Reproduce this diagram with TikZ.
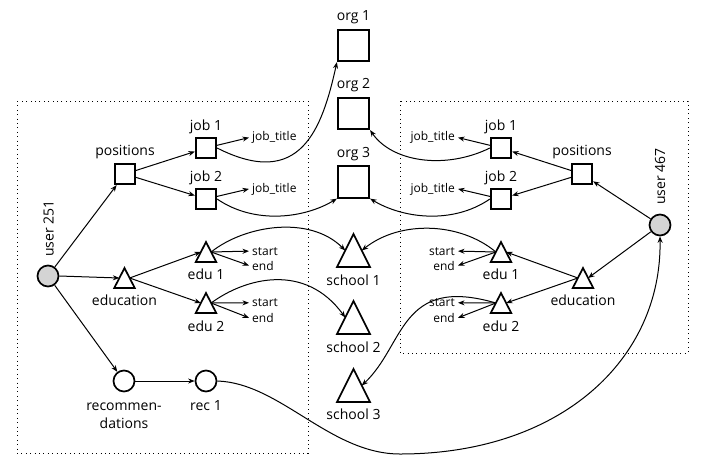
\documentclass[tikz,border=0pt]{standalone}
\usepackage{fontspec}
\setmainfont{Open Sans}
\usetikzlibrary{arrows.meta,calc}
\newcommand\drawtri[1]{%
  \draw[line width=1.7pt] (#1.south west) -- (#1.north) -- (#1.south east) -- cycle;
  \coordinate (#1-l) at ($(#1.south west)!0.5!(#1.north)$);
  \coordinate (#1-r) at ($(#1.south east)!0.5!(#1.north)$);}
\begin{document}
\begin{tikzpicture}[x=1pt,y=-1pt,
 sq/.style={draw, line width=1.7pt, minimum size=20.5pt, inner sep=0pt},
 bigsq/.style={sq, minimum size=31.5pt},
 tri/.style={minimum width=20.5pt, minimum height=20pt, inner sep=0pt, outer sep=0pt, anchor=south},
 bigtri/.style={tri, minimum width=33pt, minimum height=33pt},
 usr/.style={draw, circle, line width=1.7pt, fill=black!17, minimum size=21pt, inner sep=0pt},
 recn/.style={draw, circle, line width=1.7pt, minimum size=21pt, inner sep=0pt},
 lbl/.style={font=\fontsize{14}{16}\selectfont, inner sep=0pt, anchor=base},
 sml/.style={font=\fontsize{12}{13}\selectfont, inner xsep=3pt, inner ysep=1pt},
 arr/.style={-{Stealth[length=6.5pt,width=5pt]}, line width=1pt},
 dotbox/.style={dash pattern=on 0.8pt off 3.6pt, line width=0.8pt}
]
\useasboundingbox (0,0) rectangle (708,466);
% boxes
\draw[dotbox] (17,101) rectangle (308,453);
\draw[dotbox] (400,101) rectangle (688,353);

% ---------- left ----------
\node[usr] (u1) at (48,276) {};
\node[lbl, rotate=90, anchor=base west] (u1l) at (53.5,257) {user 251};
\node[sq] (pos1) at (125,174) {};
\node[lbl] (pos1l) at (125,155.7) {positions};
\node[sq] (job1) at (206,148) {};
\node[lbl] (job1l) at (206,130) {job 1};
\node[sq] (job2) at (206,199) {};
\node[lbl] (job2l) at (206,181.7) {job 2};
\node[sml, anchor=base west] (jt1) at (249,140.7) {job\_title};
\node[sml, anchor=base west] (jt2) at (249,192) {job\_title};
\node[tri] (edu) at (124.5,288) {}; \drawtri{edu}
\node[lbl] (edul) at (124.5,305) {education};
\node[tri] (e1) at (206,262) {}; \drawtri{e1}
\node[lbl] (e1l) at (206,279) {edu 1};
\node[tri] (e2) at (206,313) {}; \drawtri{e2}
\node[lbl] (e2l) at (206,331) {edu 2};
\node[sml, anchor=base west] (s1) at (249,255) {start};
\node[sml, anchor=base west] (n1) at (249,270) {end};
\node[sml, anchor=base west] (s2) at (249,306.7) {start};
\node[sml, anchor=base west] (n2) at (249,322.3) {end};
\node[recn] (recs) at (124,381) {};
\node[lbl] (recsl1) at (124,410) {recommen-};
\node[lbl] (recsl2) at (124,428) {dations};
\node[recn] (rec1) at (206,381) {};
\node[lbl] (rec1l) at (206,410) {rec 1};

% ---------- middle ----------
\node[bigsq] (o1) at (353.5,45.5) {};
\node[lbl] (o1l) at (353.5,20) {org 1};
\node[bigsq] (o2) at (353.5,113.5) {};
\node[lbl] (o2l) at (353.5,88) {org 2};
\node[bigsq] (o3) at (353.5,182) {};
\node[lbl] (o3l) at (353.5,157) {org 3};
\node[bigtri] (sc1) at (353.5,267) {}; \drawtri{sc1}
\node[lbl] (sc1l) at (353.5,285) {school 1};
\node[bigtri] (sc2) at (353.5,334) {}; \drawtri{sc2}
\node[lbl] (sc2l) at (353.5,352.7) {school 2};
\node[bigtri] (sc3) at (353.5,402) {}; \drawtri{sc3}
\node[lbl] (sc3l) at (353.5,419.3) {school 3};

% ---------- right ----------
\node[usr] (u2) at (660,225) {};
\node[lbl, rotate=90, anchor=base west] (u2l) at (665,205) {user 467};
\node[sq] (pos2) at (582,174) {};
\node[lbl] (pos2l) at (582,155.7) {positions};
\node[sq] (jr1) at (501,148) {};
\node[lbl] (jr1l) at (501,130) {job 1};
\node[sq] (jr2) at (501,199) {};
\node[lbl] (jr2l) at (501,181.7) {job 2};
\node[sml, anchor=base east] (jtr1) at (458,140.7) {job\_title};
\node[sml, anchor=base east] (jtr2) at (458,192) {job\_title};
\node[tri] (edr) at (583,288) {}; \drawtri{edr}
\node[lbl] (edrl) at (583,305) {education};
\node[tri] (er1) at (501,262) {}; \drawtri{er1}
\node[lbl] (er1l) at (501,279) {edu 1};
\node[tri] (er2) at (501,313) {}; \drawtri{er2}
\node[lbl] (er2l) at (501,331) {edu 2};
\node[sml, anchor=base east] (sr1) at (458,255) {start};
\node[sml, anchor=base east] (nr1) at (458,270) {end};
\node[sml, anchor=base east] (sr2) at (458,306.7) {start};
\node[sml, anchor=base east] (nr2) at (458,322.3) {end};

% ---------- left connectors ----------
\draw[arr] (u1) -- (pos1);
\draw[arr] (u1.east) -- (edu-l);
\draw[arr] (u1) -- (recs);
\draw[arr] (pos1) -- (job1);
\draw[arr] (pos1) -- (job2);
\draw[arr] (job1) -- (jt1.west);
\draw[arr] (job2) -- (jt2.west);
\draw[arr] (edu-r) -- (e1-l);
\draw[arr] (edu-r) -- (e2-l);
\draw[arr] (e1-r) -- (s1.west);
\draw[arr] (e1-r) -- (n1.west);
\draw[arr] (e2-r) -- (s2.west);
\draw[arr] (e2-r) -- (n2.west);
\draw[arr] (recs) -- (rec1);
\draw[arr] (job1.east) .. controls (300,190) and (322,130) .. (o1.south west);
\draw[arr] (job2.east) .. controls (255,225) and (305,218) .. (o3.south west);
\draw[arr] (e1-r) .. controls (245,225) and (310,215) .. (sc1-l);
\draw[arr] (e2-r) .. controls (245,278) and (305,262) .. (sc2-l);
\draw[arr] (rec1.east) .. controls (280,383) and (330,454) .. (400,454)
   .. controls (560,454) and (662,360) .. (u2.south);

% ---------- right connectors ----------
\draw[arr] (u2) -- (pos2);
\draw[arr] (u2) -- (edr-r);
\draw[arr] (pos2) -- (jr1);
\draw[arr] (pos2) -- (jr2);
\draw[arr] (jr1) -- (jtr1.east);
\draw[arr] (jr2) -- (jtr2.east);
\draw[arr] (edr-l) -- (er1-r);
\draw[arr] (edr-l) -- (er2-r);
\draw[arr] (er1-l) -- (sr1.east);
\draw[arr] (er1-l) -- (nr1.east);
\draw[arr] (er2-l) -- (sr2.east);
\draw[arr] (er2-l) -- (nr2.east);
\draw[arr] (jr1.west) .. controls (445,170) and (392,162) .. (o2.south east);
\draw[arr] (jr2.west) .. controls (452,225) and (402,218) .. (o3.south east);
\draw[arr] (er1-l) .. controls (460,222) and (400,220) .. (sc1-r);
\draw[arr] (er2-l) .. controls (400,275) and (405,345) .. (sc3-r);
\end{tikzpicture}
\end{document}
